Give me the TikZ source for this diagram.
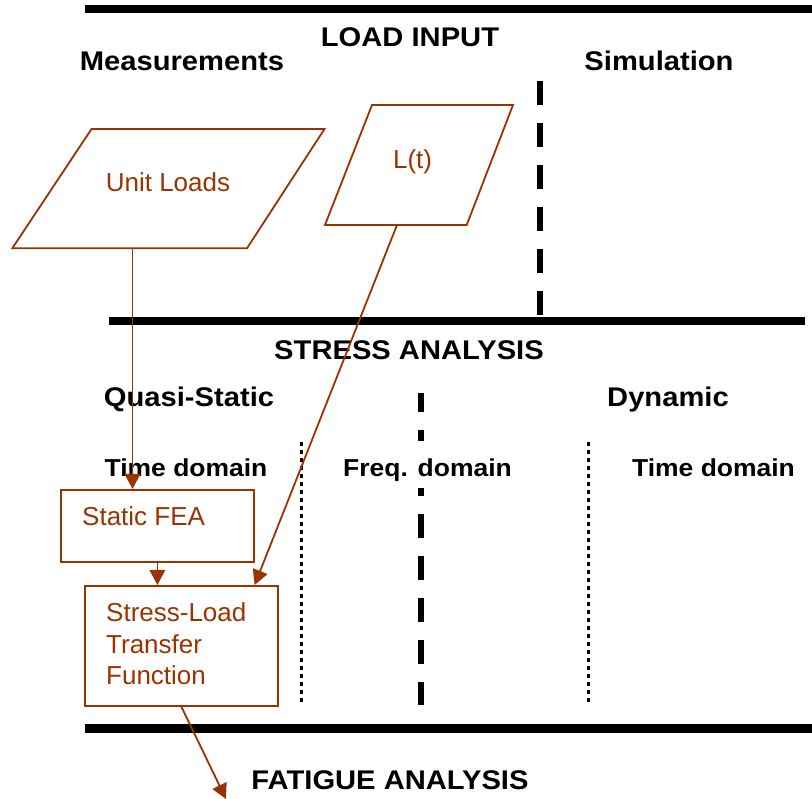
\documentclass[tikz,border=0pt]{standalone}
\usepackage{fontspec}
\setmainfont{Liberation Sans}
\newfontfamily\headfont{Liberation Sans}[FakeStretch=1.08]
\usetikzlibrary{arrows.meta,calc}
\definecolor{rust}{RGB}{153,51,0}

\begin{document}
\begin{tikzpicture}[x=1pt,y=-1pt,
  heading/.style={font=\headfont\bfseries\fontsize{27}{32}\selectfont, anchor=base, inner sep=0pt},
  subheading/.style={font=\headfont\bfseries\fontsize{24.5}{29}\selectfont, anchor=base, inner sep=0pt},
  label/.style={text=rust, font=\fontsize{26}{31}\selectfont, inner sep=0pt},
  rule/.style={line width=8.5pt},
  bigdash/.style={line width=6pt, dash pattern=on 24pt off 18pt},
  finedots/.style={line width=3.6pt, dash pattern=on 3.6pt off 4.4pt},
  box/.style={draw=rust, line width=1.8pt, inner sep=0pt, anchor=north west},
  outline/.style={draw=rust, line width=1.8pt, line join=miter},
  flow/.style={draw=rust, line width=1.8pt, -{Triangle[length=15pt,width=15.5pt]}}
]
\useasboundingbox (0,0) rectangle (812,799);

% section rules
\draw[rule] (85,9) -- (812,9);
\draw[rule] (109,321) -- (805,321);
\draw[rule] (85,728.5) -- (812,728.5);

% separators
\draw[bigdash] (540,81) -- (540,316);
\draw[bigdash, dash phase=5pt] (421,393) -- (421,705);
\draw[finedots] (301.5,442) -- (301.5,702);
\draw[finedots] (588.5,442) -- (588.5,702);

% headings
\node[heading] (loadin) at (410,46.7) {LOAD INPUT};
\node[heading] (meas) at (182,71) {Measurements};
\node[heading] (simu) at (659,71) {Simulation};
\node[heading] (stress) at (409,359.3) {STRESS ANALYSIS};
\node[heading] (quasi) at (189,406.5) {Quasi-Static};
\node[heading] (dyn) at (668,406.5) {Dynamic};
\node[subheading] (tdl) at (186,476.7) {Time domain};
\node[subheading, fill=white, text height=36pt, text depth=11pt] (fdom) at (427.5,476.7) {Freq. domain};
\node[subheading] (tdr) at (713.5,476.7) {Time domain};
\node[heading] (fatigue) at (390,789.3) {FATIGUE ANALYSIS};

% load input parallelograms
\draw[outline] (91.5,129) -- (324.5,129) -- (247,248.3) -- (12.3,248.3) -- cycle;
\node[label, anchor=base] (unit) at (168,192) {Unit Loads};
\coordinate (unitB) at (132.5,248.3);

\draw[outline] (372,105) -- (513,105) -- (466.7,225) -- (325,225) -- cycle;
\node[label, anchor=base] (lt) at (412.6,169) {L(t)};
\coordinate (ltB) at (397,225);

% stress analysis boxes
\node[box, minimum width=193pt, minimum height=72pt] (fea) at (60,489) {};
\node[label, anchor=base west] (featxt) at (82,525.7) {Static FEA};

\node[box, minimum width=193pt, minimum height=120pt] (slt) at (84,585) {};
\node[label, anchor=base west] (sl1) at (106,621.7) {Stress-Load};
\node[label, anchor=base west] (sl2) at (106,653.2) {Transfer};
\node[label, anchor=base west] (sl3) at (106,684.8) {Function};

\coordinate (fat) at (226,799);

% flow connectors
\draw[flow] (unitB) -- (unitB |- fea.north);
\draw[flow] (ltB) -- ($(slt.north west)!0.876!(slt.north east)$);
\draw[flow] (fea.south) -- (fea.south |- slt.north);
\draw[flow] (slt.south) -- (fat);
\end{tikzpicture}
\end{document}
